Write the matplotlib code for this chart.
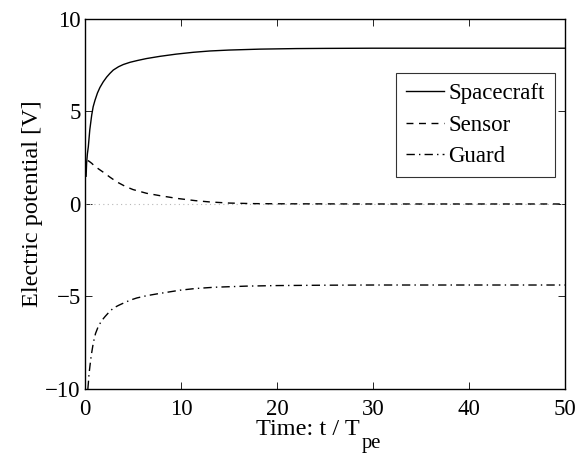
import matplotlib
matplotlib.use("Agg")
import matplotlib.pyplot as plt

tick_size = 16.5
label_size = 17.5
legend_size = 16.5

matplotlib.rcParams['font.family'] = "Liberation Serif"

# values
t_spacecraft = [0.12, 0.17, 0.25, 0.35, 0.5, 0.7, 0.85, 1.04, 1.3, 1.56, 1.9, 2.26, 2.6, 2.95, 3.5, 4.0, 4.7, 5.5, 6.4, 7.8,
                9.5, 11.3, 13.0, 15.0, 18.2, 22.0, 25.0, 30.0, 40.0, 50.0]
v_spacecraft = [1.5, 2.2, 2.7, 3.1, 4.0, 4.8, 5.25, 5.6, 6.0, 6.3, 6.6, 6.86, 7.06, 7.24, 7.42, 7.54, 7.66, 7.76, 7.86, 7.98,
                8.1, 8.2, 8.27, 8.32, 8.37, 8.4, 8.41, 8.42, 8.42, 8.42]

t_sensor = [0.3, 0.45, 0.7, 1.0, 1.4, 1.9, 2.6, 3.3, 4.2, 5.0, 6.4, 7.8, 9.6, 11.5, 13.0, 15.0, 17.5, 20.0, 30.0, 40.0, 50.0]
v_sensor = [2.35, 2.3, 2.2, 2.05, 1.9, 1.72, 1.45, 1.2, 0.95, 0.78, 0.58, 0.45, 0.3, 0.18, 0.11, 0.05, 0.02, 0.01, 0.0, 0.0, 0.0]

t_guard = [0.3, 0.35, 0.42, 0.52, 0.65, 0.87, 1.1, 1.4, 1.75, 2.1, 2.5, 2.95, 3.5, 4.0, 4.7, 5.4, 6.4, 7.5, 8.7, 9.9,
           11.5, 13.5, 16.8, 20.0, 25.0, 30.0, 40.0, 50.0]
v_guard = [-10.0, -9.7, -9.2, -8.75, -8.2, -7.5, -7.0, -6.6, -6.3, -6.08, -5.85, -5.63, -5.48, -5.36, -5.2, -5.08, -4.96, -4.86,
           -4.76, -4.66, -4.57, -4.5, -4.44, -4.41, -4.39, -4.38, -4.38, -4.38]

fig = plt.figure(figsize=(5.84, 4.54), dpi=100)
ax = fig.add_axes([0.1455, 0.1432, 0.822, 0.815])

ax.axhline(0, color="#b8b8b8", linestyle=(0, (1, 3)), linewidth=0.8)
ax.plot(t_spacecraft, v_spacecraft, color="black", linewidth=1.0, label="Spacecraft")
ax.plot(t_sensor, v_sensor, color="black", linewidth=1.0, linestyle=(0, (5, 4)), label="Sensor")
ax.plot(t_guard, v_guard, color="black", linewidth=1.0, linestyle=(0, (6, 3, 1, 3)), label="Guard")

ax.set_xlim(0, 50)
ax.set_ylim(-10, 10)
ax.set_xticks([0, 10, 20, 30, 40, 50])
ax.set_yticks([-10, -5, 0, 5, 10])
ax.tick_params(direction="in", top=True, right=True, labelsize=tick_size, length=5, width=0.6)
ax.tick_params(axis="x", pad=7)
ax.tick_params(axis="y", pad=3)
for s in ax.spines.values():
    s.set_linewidth(1.0)

# x label with a low subscript, as in the original
xl = ax.text(0.465, -0.124, "Time: t / T", transform=ax.transAxes, ha="center", va="baseline",
             fontsize=label_size)
ax.annotate("pe", xy=(1, 0), xycoords=xl, xytext=(1, -6), textcoords="offset points",
            ha="left", va="baseline", fontsize=label_size * 0.85)
ax.set_ylabel("Electric potential [V]", fontsize=label_size, labelpad=2)

leg = ax.legend(loc="upper right", bbox_to_anchor=(0.979, 0.854), fontsize=legend_size,
                frameon=True, fancybox=False, edgecolor="black", handlelength=1.65,
                handletextpad=0.2, borderpad=0.45, labelspacing=0.45, borderaxespad=0)
leg.get_frame().set_linewidth(0.8)

plt.savefig("out.png", dpi=100)
plt.close()
